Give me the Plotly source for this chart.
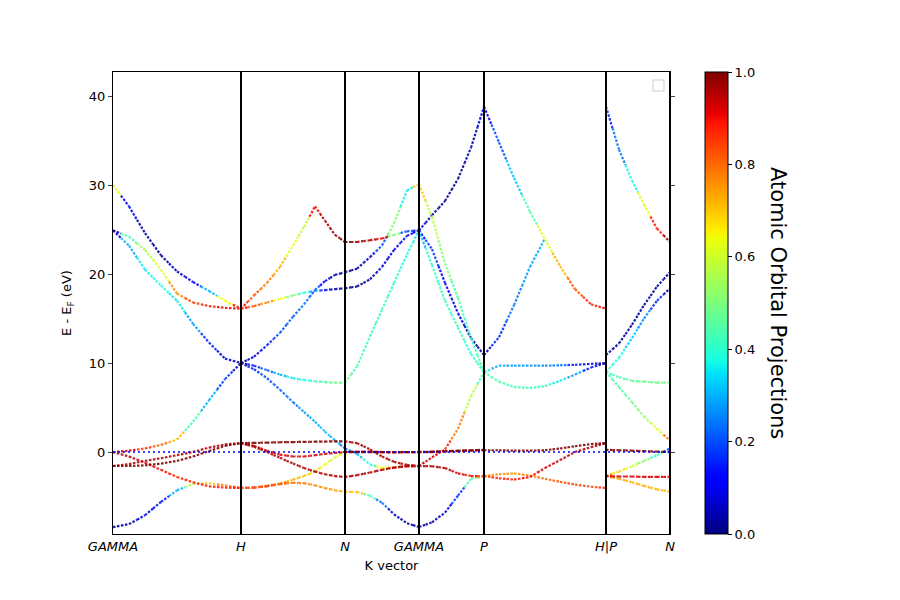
import numpy as np
import plotly.graph_objects as go

# ---------------- data ----------------
K_TICKS = [0.0, 1.0, 1.8125, 2.3906, 2.8984, 3.8516, 4.3516]
TICK_LABELS = ["GAMMA", "H", "N", "GAMMA", "P", "H|P", "N"]
Y_TICKS = [0, 10, 20, 30, 40]
CB_TICKS = [0.0, 0.2, 0.4, 0.6, 0.8, 1.0]

# segment GAMMA -> H
K_GH = [0.0, 0.125, 0.25, 0.375, 0.5, 0.625, 0.75, 0.875, 1.0]
E_GH = [
    [-8.43, -8.1, -7.1, -5.6, -4.3, -3.6, -3.5, -3.75, -4.04],
    [0.0, -0.5, -1.2, -2.0, -2.8, -3.4, -3.85, -4.0, -4.04],
    [-1.57, -1.57, -1.5, -1.3, -1.0, -0.5, 0.1, 0.7, 1.0],
    [-1.57, -1.35, -1.0, -0.7, -0.35, 0.0, 0.5, 0.85, 1.0],
    [0.0, 0.15, 0.4, 0.8, 1.4, 3.4, 5.8, 8.2, 10.0],
    [24.9, 23.2, 20.5, 18.7, 17.0, 14.4, 12.3, 10.5, 10.0],
    [24.9, 24.2, 22.7, 20.5, 17.8, 16.8, 16.4, 16.2, 16.1],
    [30.0, 27.6, 24.6, 22.1, 20.3, 19.1, 18.1, 17.0, 16.1],
]
W_GH = [
    [.02, .04, .08, .14, .3, .55, .7, .78, .85],
    [.97, .95, .92, .9, .88, .88, .87, .87, .87],
    [1.0] * 9,
    [.97] * 9,
    [.97, .92, .86, .8, .72, .45, .3, .18, .08],
    [.08, .3, .36, .38, .36, .28, .16, .08, .03],
    [.03, .45, .55, .62, .75, .85, .88, .9, .9],
    [.62, .12, .03, .02, .03, .1, .3, .65, .9],
]

# segment H -> N
K_HN = [1.0, 1.1016, 1.2031, 1.3047, 1.4063, 1.4922, 1.5781, 1.6563, 1.7344, 1.8125]
E_HN = [
    [-4.04, -4.0, -3.85, -3.6, -3.45, -3.5, -3.75, -4.05, -4.3, -4.45],
    [-4.04, -4.0, -3.8, -3.55, -3.1, -2.7, -2.2, -1.4, -0.6, 0.0],
    [1.0, 1.03, 1.06, 1.1, 1.12, 1.14, 1.16, 1.18, 1.2, 1.2],
    [1.0, 0.7, 0.15, -0.3, -0.5, -0.5, -0.35, -0.2, -0.1, 0.0],
    [1.0, 0.6, 0.0, -0.65, -1.3, -1.8, -2.2, -2.5, -2.7, -2.8],
    [10.0, 10.7, 12.0, 13.4, 15.2, 16.6, 18.2, 19.2, 19.9, 20.2],
    [10.0, 9.7, 9.2, 8.7, 8.3, 8.1, 7.95, 7.85, 7.8, 7.8],
    [10.0, 9.3, 8.3, 7.0, 5.6, 4.5, 3.4, 2.3, 1.3, 0.4],
    [16.1, 17.6, 19.0, 20.8, 23.2, 25.3, 27.6, 26.0, 24.4, 23.6],
    [16.1, 16.4, 16.8, 17.2, 17.6, 17.9, 18.1, 18.2, 18.3, 18.4],
]
W_HN = [
    [.85, .84, .83, .82, .8, .78, .77, .76, .74, .72],
    [.85, .83, .8, .77, .72, .7, .68, .65, .62, .6],
    [1.0] * 10,
    [.93] * 10,
    [.95] * 10,
    [.03, .08, .14, .2, .22, .25, .2, .12, .05, .02],
    [.03, .15, .22, .3, .35, .38, .42, .45, .47, .47],
    [.03, .15, .2, .22, .25, .28, .3, .32, .3, .25],
    [.9, .82, .78, .72, .65, .58, .9, .95, .98, 1.0],
    [.9, .82, .75, .65, .5, .4, .28, .14, .05, .02],
]

# segment N -> GAMMA
K_NG = [1.8125, 1.9063, 2.0078, 2.1016, 2.1953, 2.2969, 2.3906]
E_NG = [
    [-4.45, -4.5, -4.9, -5.7, -7.0, -8.0, -8.43],
    [-2.8, -2.6, -2.3, -2.0, -1.75, -1.6, -1.57],
    [1.2, 1.0, 0.3, -0.5, -1.1, -1.45, -1.57],
    [0.4, -0.2, -1.4, -1.8, -1.75, -1.6, -1.57],
    [0.0, 0.0, 0.0, 0.0, 0.0, 0.0, 0.0],
    [0.0, 0.05, 0.05, 0.0, -0.05, 0.0, 0.0],
    [23.6, 23.6, 23.8, 24.0, 24.4, 24.8, 24.9],
    [20.2, 20.6, 21.9, 23.2, 25.7, 29.4, 30.1],
    [18.4, 18.6, 19.4, 20.8, 22.7, 24.3, 24.9],
    [7.8, 9.6, 13.0, 16.0, 19.0, 22.2, 24.9],
]
W_NG = [
    [.72, .7, .45, .25, .08, .03, .02],
    [.95] * 7,
    [.97] * 7,
    [.25, .3, .4, .65, .8, .9, .95],
    [1.0] * 7,
    [.93] * 7,
    [1.0, .98, .95, .9, .5, .2, .1],
    [.02, .03, .07, .2, .5, .35, .7],
    [.02, .02, .04, .08, .12, .14, .1],
    [.47, .45, .42, .42, .4, .38, .35],
]

# segment GAMMA -> P
K_GP = [2.3906, 2.4922, 2.5938, 2.6953, 2.7969, 2.8984]
E_GP = [
    [-8.43, -7.9, -6.8, -4.9, -3.0, -2.7],
    [-1.57, -1.6, -1.8, -2.4, -2.7, -2.7],
    [-1.57, -0.6, 0.3, 2.6, 6.3, 9.0],
    [0.0, 0.05, 0.1, 0.15, 0.2, 0.25],
    [0.0, 0.0, 0.05, 0.1, 0.15, 0.2],
    [24.9, 26.6, 28.2, 30.7, 34.2, 38.8],
    [30.1, 26.4, 21.2, 17.3, 12.8, 9.0],
    [24.9, 21.0, 17.0, 14.0, 11.0, 9.0],
    [24.9, 22.8, 19.0, 15.6, 12.8, 10.9],
]
W_GP = [
    [.02, .04, .08, .18, .45, .75],
    [.97, .97, .95, .92, .9, .82],
    [.97, .93, .88, .78, .58, .45],
    [1.0] * 6,
    [.95] * 6,
    [.08, .03, .02, .02, .03, .08],
    [.7, .58, .5, .45, .42, .45],
    [.3, .4, .42, .42, .4, .4],
    [.12, .18, .12, .07, .03, .02],
]

# segment P -> H
K_PH = [2.8984, 3.0156, 3.1328, 3.2578, 3.375, 3.4922, 3.6094, 3.7344, 3.8516]
E_PH = [
    [38.8, 34.8, 30.8, 27.0, 23.9, 20.9, 18.3, 16.6, 16.1],
    [10.9, 12.9, 16.5, 20.8, 24.0, None, None, None, None],
    [9.0, 9.7, 9.7, 9.7, 9.7, 9.75, 9.8, 9.9, 10.0],
    [9.0, 7.9, 7.3, 7.2, 7.4, 8.0, 8.7, 9.5, 10.0],
    [0.2, 0.2, 0.15, 0.15, 0.2, 0.4, 0.65, 0.9, 1.0],
    [-2.7, -2.95, -3.1, -2.8, -1.8, -0.9, 0.0, 0.55, 1.0],
    [-2.7, -2.5, -2.4, -2.65, -3.0, -3.35, -3.65, -3.9, -4.04],
]
W_PH = [
    [.1, .2, .33, .45, .62, .72, .82, .88, .9],
    [.03, .16, .25, .28, .3, 0, 0, 0, 0],
    [.35, .3, .28, .27, .26, .25, .16, .08, .03],
    [.45, .45, .43, .42, .4, .35, .28, .14, .03],
    [1.0] * 9,
    [.85, .87, .88, .9, .92, .94, .96, .97, .97],
    [.75, .75, .76, .78, .8, .82, .84, .85, .86],
]

# segment P -> N
K_PN = [3.8516, 3.9531, 4.0547, 4.1484, 4.25, 4.3516]
E_PN = [
    [38.8, 34.0, 30.5, 27.8, 25.1, 23.6],
    [10.9, 12.2, 14.3, 16.5, 18.6, 20.2],
    [9.0, 10.6, 12.8, 15.0, 17.0, 18.4],
    [9.0, 8.4, 8.0, 7.9, 7.8, 7.8],
    [9.0, 7.3, 5.6, 4.0, 2.6, 1.3],
    [0.25, 0.2, 0.15, 0.1, 0.05, 0.0],
    [-2.7, -2.2, -1.6, -1.0, -0.35, 0.4],
    [-2.7, -2.75, -2.75, -2.8, -2.8, -2.8],
    [-2.7, -3.0, -3.4, -3.8, -4.2, -4.45],
]
W_PN = [
    [.15, .25, .38, .62, .88, .98],
    [.03, .02, .02, .02, .02, .02],
    [.4, .38, .33, .26, .16, .06],
    [.42, .45, .46, .47, .47, .47],
    [.42, .45, .48, .52, .62, .78],
    [1.0] * 6,
    [.75, .68, .6, .52, .4, .2],
    [.93] * 6,
    [.75, .74, .73, .72, .72, .72],
]

SEGMENTS = [(K_GH, E_GH, W_GH), (K_HN, E_HN, W_HN), (K_NG, E_NG, W_NG),
            (K_GP, E_GP, W_GP), (K_PH, E_PH, W_PH), (K_PN, E_PN, W_PN)]

# ---------------- matplotlib "jet" colormap ----------------
_R = ([0, 0.35, 0.66, 0.89, 1], [0, 0, 1, 1, 0.5])
_G = ([0, 0.125, 0.375, 0.64, 0.91, 1], [0, 0, 1, 1, 0, 0])
_B = ([0, 0.11, 0.34, 0.65, 1], [0.5, 1, 1, 0, 0])


def jet(v):
    r = np.interp(v, *_R)
    g = np.interp(v, *_G)
    b = np.interp(v, *_B)
    return "rgb(%d,%d,%d)" % (round(r * 255), round(g * 255), round(b * 255))


JET_SCALE = [[i / 100, jet(i / 100)] for i in range(101)]

# ---------------- build colored line pieces ----------------
NB = 50
pieces = {}


def add(b, xs, ys):
    d = pieces.setdefault(b, ([], []))
    d[0].extend(xs + [None])
    d[1].extend(ys + [None])


for K, E, W in SEGMENTS:
    for e, w in zip(E, W):
        for i in range(len(K) - 1):
            if e[i] is None or e[i + 1] is None:
                continue
            xm = (K[i] + K[i + 1]) / 2
            ym = (e[i] + e[i + 1]) / 2
            add(round(w[i] * NB), [K[i], xm], [e[i], ym])
            add(round(w[i + 1] * NB), [xm, K[i + 1]], [ym, e[i + 1]])

fig = go.Figure()
for b in sorted(pieces):
    xs, ys = pieces[b]
    fig.add_trace(go.Scatter(
        x=xs, y=ys, mode="lines", hoverinfo="skip", showlegend=False,
        opacity=0.88,
        line=dict(color=jet(b / NB), width=2.2, dash="2.5px,1.5px"),
    ))

# Fermi level
fig.add_trace(go.Scatter(
    x=[K_TICKS[0], K_TICKS[-1]], y=[0, 0], mode="lines", showlegend=False,
    hoverinfo="skip", line=dict(color="blue", width=1.5, dash="2px,3px"),
))

# page body adds an 8px offset; figure coordinates below compensate for it
L, R, T, B = 105, 238, 64, 74
PW = 900 - L - R

# colorbar carrier
fig.add_trace(go.Scatter(
    x=[None], y=[None], mode="markers", showlegend=False, hoverinfo="skip",
    marker=dict(
        color=[0, 1], cmin=0, cmax=1, colorscale=JET_SCALE, showscale=True,
        colorbar=dict(
            x=697 / 900, xref="container", xanchor="left", xpad=0,
            y=0.5, yanchor="middle", len=1, ypad=0, thickness=23,
            outlinewidth=1, outlinecolor="black",
            tickvals=CB_TICKS, ticktext=["%.1f" % v for v in CB_TICKS],
            ticks="outside", ticklen=4, tickcolor="black",
            tickfont=dict(size=13, color="black"),
        ),
    ),
))

shapes = []
for k in K_TICKS[1:]:
    shapes.append(dict(type="line", xref="x", yref="paper", x0=k, x1=k, y0=0, y1=1,
                       line=dict(color="black", width=2), layer="above"))
# empty legend box
shapes.append(dict(type="rect", xref="paper", yref="paper",
                   x0=(653 - 113) / 557, x1=(664 - 113) / 557,
                   y0=(534 - 91) / 462, y1=(534 - 80) / 462,
                   line=dict(color="#cccccc", width=1), fillcolor="white", layer="above"))

fig.update_layout(
    width=900, height=600,
    margin=dict(l=L, r=R, t=T, b=B),
    paper_bgcolor="white", plot_bgcolor="white",
    font=dict(family="DejaVu Sans", color="black", size=13),
    shapes=shapes,
    annotations=[dict(
        text="Atomic Orbital Projections", xref="paper", yref="paper",
        x=(770 - L) / PW, y=0.5, xanchor="center", yanchor="middle",
        textangle=90, showarrow=False, font=dict(size=21, color="black"),
    )],
    xaxis=dict(
        range=[K_TICKS[0], K_TICKS[-1]], tickvals=K_TICKS,
        ticktext=["<i>%s</i>" % t for t in TICK_LABELS],
        showgrid=False, zeroline=False, showline=True, linecolor="black",
        linewidth=1, mirror=True, ticks="", tickfont=dict(size=13),
        title=dict(text="K vector", font=dict(size=13), standoff=8),
    ),
    yaxis=dict(
        range=[-9.21, 42.70], tickvals=Y_TICKS,
        showgrid=False, zeroline=False, showline=True, linecolor="black",
        linewidth=1, mirror="ticks", ticks="outside", ticklen=4,
        tickfont=dict(size=13),
        title=dict(text="E - E<sub>F</sub> (eV)", font=dict(size=13), standoff=14),
    ),
)

fig.write_html("out.html")
